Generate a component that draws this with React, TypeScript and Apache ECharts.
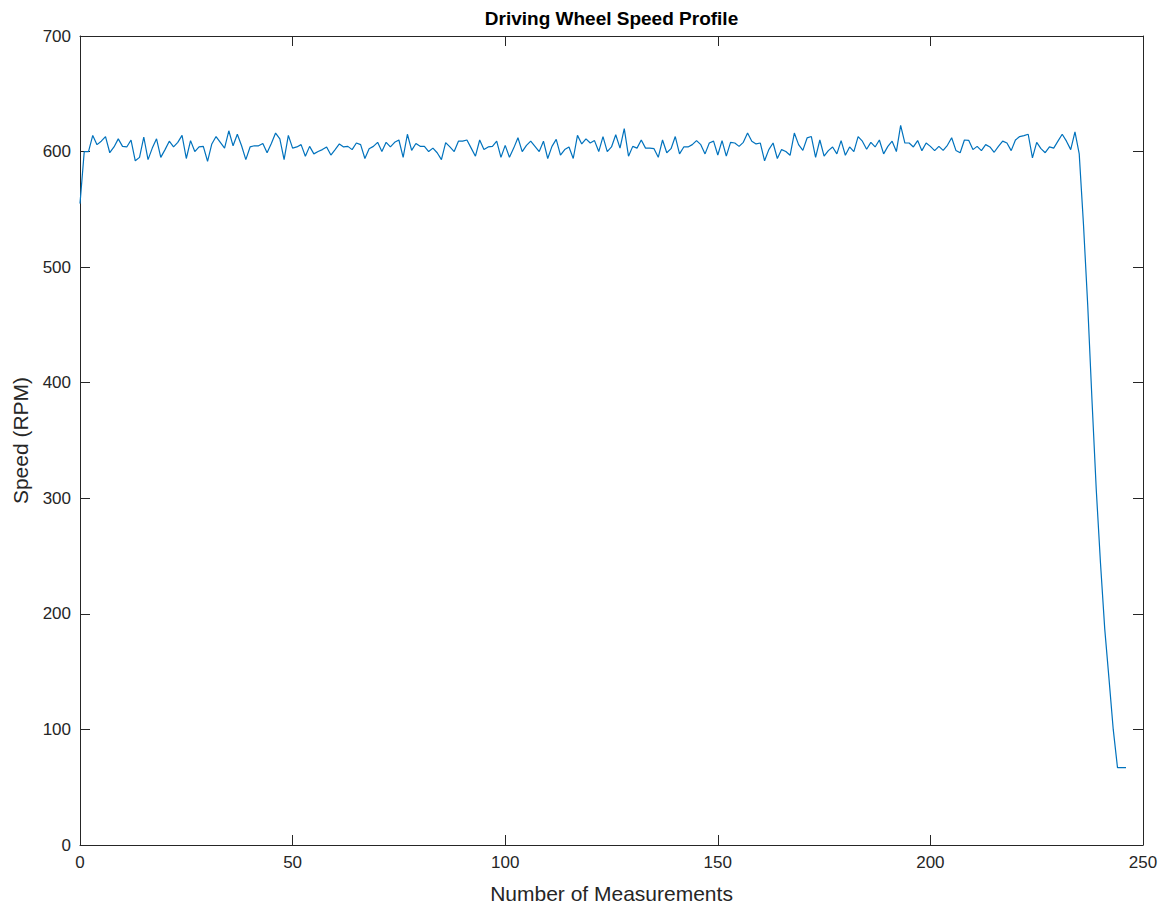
import React, { useEffect, useRef } from "react";
import * as echarts from "echarts";

const chartTitle = "Driving Wheel Speed Profile";
const xAxisLabel = "Number of Measurements";
const yAxisLabel = "Speed (RPM)";
const xTicks = [0, 50, 100, 150, 200, 250];
const yTicks = [0, 100, 200, 300, 400, 500, 600, 700];

// Speed (RPM) for measurement index 0, 1, 2, ...
const speedRpm = [
  555, 600, 600, 614, 606, 609, 613, 599, 604, 611,
  604.5, 604, 610, 592, 595, 612.6, 593, 603, 611, 595,
  601.7, 609, 604, 608, 614, 594, 609.5, 600, 604, 604.5,
  591.6, 606.6, 613, 608, 603, 618, 605, 615, 605, 593,
  604, 605, 605, 607, 599, 607, 616, 611, 593, 614,
  603, 604, 606, 596, 604.5, 598, 600, 601.7, 604, 597,
  601.7, 606.6, 604, 604.5, 601.7, 607.4, 606, 594, 602.5, 604.5,
  608, 600, 608, 604, 608, 610, 595, 615, 601, 607,
  604.5, 604.5, 600, 603, 599, 593, 607.7, 604, 600, 609,
  609, 610, 603, 596, 610, 601.7, 604, 604.5, 609, 595,
  605.4, 595, 603, 612, 600, 605.4, 609, 604.5, 600, 609,
  594, 604.5, 610.6, 597, 601.7, 604, 594, 614, 606.6, 611,
  607.4, 609.5, 600, 613, 600, 604, 614.6, 603, 619.8, 596,
  604.5, 603, 610, 603, 603, 602.5, 595, 610, 599, 602.5,
  613, 598, 604, 604, 606, 609.5, 606, 598, 607.4, 609,
  597, 609.5, 596, 608, 607.4, 604.5, 608, 616, 609, 606.6,
  607.4, 592, 601.7, 607.4, 594, 601.7, 600, 596.8, 616, 606,
  601, 611.8, 613, 595, 610, 596, 600.8, 604, 598, 609.5,
  596.8, 604, 600, 613, 609, 602, 608, 604, 610, 598,
  604.5, 609, 600, 622.7, 607.4, 607.4, 604, 609.5, 600.8, 607.4,
  604.5, 600.8, 604.5, 601, 605.4, 612, 601, 599, 610, 609.7,
  601.7, 604.5, 600.8, 606, 604, 599.4, 604.5, 609, 607.4, 600.8,
  610, 613, 613.8, 615, 594.5, 608, 602.5, 599, 604, 603,
  609, 615, 609, 601.7, 617, 598, 537, 467, 385, 308,
  244, 187, 144, 100, 67, 67, 67,
];

export default function App() {
  const ref = useRef<HTMLDivElement>(null);

  useEffect(() => {
    if (!ref.current) return;
    const chart = echarts.init(ref.current, null, { renderer: "svg" });
    const data = speedRpm.map((v, i) => [i, v]);
    const axisColor = "#262626";
    const font = "'Liberation Sans', Arial, Helvetica, sans-serif";
    const xMin = xTicks[0];
    const xMax = xTicks[xTicks.length - 1];
    const xInt = xTicks[1] - xTicks[0];
    const yMin = yTicks[0];
    const yMax = yTicks[yTicks.length - 1];
    const yInt = yTicks[1] - yTicks[0];

    const lineStyle = { color: axisColor, width: 1 };

    chart.setOption({
      animation: false,
      backgroundColor: "#ffffff",
      grid: { left: 80, right: 23, top: 36, bottom: 60, containLabel: false, outerBoundsMode: "none" },
      xAxis: [
        {
          type: "value",
          min: xMin,
          max: xMax,
          interval: xInt,
          position: "bottom",
          name: xAxisLabel,
          nameLocation: "middle",
          nameGap: 38,
          nameTextStyle: { color: axisColor, fontSize: 21, fontFamily: font },
          axisLine: { show: true, onZero: false, lineStyle },
          axisTick: { show: true, inside: true, length: 10, lineStyle },
          axisLabel: { color: axisColor, fontSize: 17, fontFamily: font, margin: 9 },
          splitLine: { show: false },
        },
        {
          type: "value",
          min: xMin,
          max: xMax,
          interval: xInt,
          position: "top",
          axisLine: { show: true, onZero: false, lineStyle },
          axisTick: { show: true, inside: true, length: 10, lineStyle },
          axisLabel: { show: false },
          splitLine: { show: false },
        },
      ],
      yAxis: [
        {
          type: "value",
          min: yMin,
          max: yMax,
          interval: yInt,
          position: "left",
          name: yAxisLabel,
          nameLocation: "middle",
          nameGap: 49,
          nameTextStyle: { color: axisColor, fontSize: 21, fontFamily: font },
          axisLine: { show: true, onZero: false, lineStyle },
          axisTick: { show: true, inside: true, length: 10, lineStyle },
          axisLabel: { color: axisColor, fontSize: 17, fontFamily: font, margin: 9 },
          splitLine: { show: false },
        },
        {
          type: "value",
          min: yMin,
          max: yMax,
          interval: yInt,
          position: "right",
          axisLine: { show: true, onZero: false, lineStyle },
          axisTick: { show: true, inside: true, length: 10, lineStyle },
          axisLabel: { show: false },
          splitLine: { show: false },
        },
      ],
      series: [
        {
          type: "line",
          xAxisIndex: 0,
          yAxisIndex: 0,
          data,
          showSymbol: false,
          symbol: "none",
          lineStyle: { color: "#0072BD", width: 1.2 },
          itemStyle: { color: "#0072BD" },
          emphasis: { disabled: true },
        },
      ],
      graphic: [
        {
          type: "text",
          x: 611.5,
          y: 18,
          style: {
            text: chartTitle,
            align: "center",
            verticalAlign: "middle",
            fill: "#000000",
            font: `bold 19px ${font}`,
          },
        },
      ],
    });
    return () => chart.dispose();
  }, []);

  return (
    <div
      ref={ref}
      style={{ position: "absolute", left: 0, top: 0, width: 1166, height: 905, background: "#ffffff" }}
    />
  );
}
